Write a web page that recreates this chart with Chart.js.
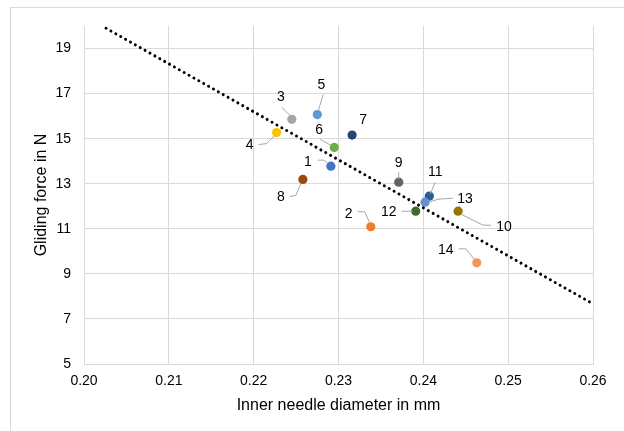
<!DOCTYPE html>
<html>
<head>
<meta charset="utf-8">
<script src="https://cdn.jsdelivr.net/npm/chart.js@4"></script>
<style>
  body { margin: 0; background: #fff; }
</style>
</head>
<body>
<canvas id="forceChart" width="624" height="431"></canvas>
<script>
// sample numbers and measured values
const sampleLabels = ["1", "2", "3", "4", "5", "6", "7", "8", "9", "10", "11", "12", "13", "14"];
const diameters = [0.2291, 0.2338, 0.2245, 0.2227, 0.2275, 0.2295, 0.2316, 0.2258, 0.2371, 0.2441, 0.2407, 0.2391, 0.2402, 0.2463];
const forces = [13.78, 11.09, 15.86, 15.27, 16.07, 14.61, 15.16, 13.19, 13.07, 11.78, 12.45, 11.78, 12.18, 9.49];

// linear trend line end points
const trendX = [0.2026, 0.26];
const trendY = [19.9, 7.67];

const xTicks = [0.20, 0.21, 0.22, 0.23, 0.24, 0.25, 0.26];
const yTicks = [5, 7, 9, 11, 13, 15, 17, 19];

const pointColors = ["#4472C4", "#ED7D31", "#A5A5A5", "#FFC000", "#5B9BD5", "#70AD47", "#264478",
  "#9E480E", "#636363", "#997300", "#255E91", "#43682B", "#698ED0", "#F1975A"];

// label placement (pixels relative to the point) and leader line paths
const labelOffsets = [[-23, -5], [-22, -14], [-11, -23], [-27, 12], [4, -30], [-15, -18], [11, -16],
  [-22, 17], [0, -20], [46, 15], [6, -25], [-27, 0], [40, -4], [-31, -14]];
const leaders = [
  [[-13, -6], [-7, -6], [-3, -3]],
  [[-13, -15], [-6, -15], [-1, -4]],
  [[-10, -12], [-2, -4]],
  [[-18, 12], [-10, 11], [-2, 3]],
  [[6, -20], [1, -4]],
  [[-14, -8], [-3, -2]],
  [],
  [[-13, 17], [-7, 16], [-2, 4]],
  [[0, -10], [0, -3]],
  [[33, 14], [25, 14], [3, 3]],
  [[6, -14], [1, -2]],
  [[-14, 0], [-3, 0]],
  [[28, -4], [13, -3], [4, 0]],
  [[-18, -14], [-11, -14], [-2, -3]]
];

const frame = {
  id: "frame",
  beforeDraw(chart) {
    const ctx = chart.ctx;
    ctx.save();
    ctx.fillStyle = "#fff";
    ctx.fillRect(0, 0, chart.width, chart.height);
    ctx.strokeStyle = "#D9D9D9";
    ctx.lineWidth = 1;
    ctx.strokeRect(10.5, 7.5, 800, 600);
    ctx.restore();
  }
};

const pointLabels = {
  id: "pointLabels",
  afterDatasetsDraw(chart) {
    const ctx = chart.ctx;
    const meta = chart.getDatasetMeta(1);
    ctx.save();
    ctx.strokeStyle = "#A6A6A6";
    ctx.lineWidth = 1;
    ctx.fillStyle = "#000";
    ctx.font = "14px 'Liberation Sans', Arial, sans-serif";
    ctx.textAlign = "center";
    ctx.textBaseline = "middle";
    meta.data.forEach((pt, i) => {
      const path = leaders[i];
      if (path.length) {
        ctx.beginPath();
        path.forEach((p, j) => {
          if (j === 0) ctx.moveTo(pt.x + p[0], pt.y + p[1]);
          else ctx.lineTo(pt.x + p[0], pt.y + p[1]);
        });
        ctx.stroke();
      }
      ctx.fillText(sampleLabels[i], pt.x + labelOffsets[i][0], pt.y + labelOffsets[i][1] + 1);
    });
    ctx.restore();
  }
};

const ctx = document.getElementById("forceChart").getContext("2d");
new Chart(ctx, {
  type: "scatter",
  data: {
    datasets: [{
      type: "line",
      label: "Trend",
      data: trendX.map((x, i) => ({ x: x, y: trendY[i] })),
      borderColor: "#000",
      borderWidth: 3,
      borderDash: [0.01, 5.6],
      borderCapStyle: "round",
      pointRadius: 0,
      fill: false
    }, {
      label: "Gliding force",
      data: diameters.map((d, i) => ({ x: d, y: forces[i] })),
      backgroundColor: pointColors,
      borderWidth: 0,
      pointRadius: 4.6,
      pointHoverRadius: 4.6
    }]
  },
  options: {
    responsive: false,
    animation: false,
    layout: { padding: { top: 26, right: 31, left: 0, bottom: 0 } },
    plugins: {
      legend: { display: false },
      tooltip: { enabled: false }
    },
    scales: {
      x: {
        type: "linear",
        min: 0.20,
        max: 0.26,
        afterBuildTicks: (scale) => { scale.ticks = xTicks.map(v => ({ value: v })); },
        afterFit: (scale) => { scale.height = 67; },
        grid: { color: "#D9D9D9", drawTicks: false },
        border: { color: "#D9D9D9" },
        ticks: {
          padding: 9,
          color: "#000",
          font: { family: "'Liberation Sans', Arial, sans-serif", size: 14 },
          callback: (v) => Number(v).toFixed(2)
        },
        title: {
          display: true,
          text: "Inner needle diameter in mm",
          color: "#000",
          padding: { top: 0, bottom: 16 },
          font: { family: "'Liberation Sans', Arial, sans-serif", size: 16 }
        }
      },
      y: {
        type: "linear",
        min: 5,
        max: 20,
        afterBuildTicks: (scale) => { scale.ticks = yTicks.map(v => ({ value: v })); },
        afterFit: (scale) => { scale.width = 84; },
        grid: { color: "#D9D9D9", drawTicks: false },
        border: { color: "#D9D9D9" },
        ticks: {
          padding: 13,
          color: "#000",
          font: { family: "'Liberation Sans', Arial, sans-serif", size: 14 }
        },
        title: {
          display: true,
          text: "Gliding force in N",
          color: "#000",
          padding: { top: 32, bottom: 0 },
          font: { family: "'Liberation Sans', Arial, sans-serif", size: 16 }
        }
      }
    }
  },
  plugins: [frame, pointLabels]
});
</script>
</body>
</html>
